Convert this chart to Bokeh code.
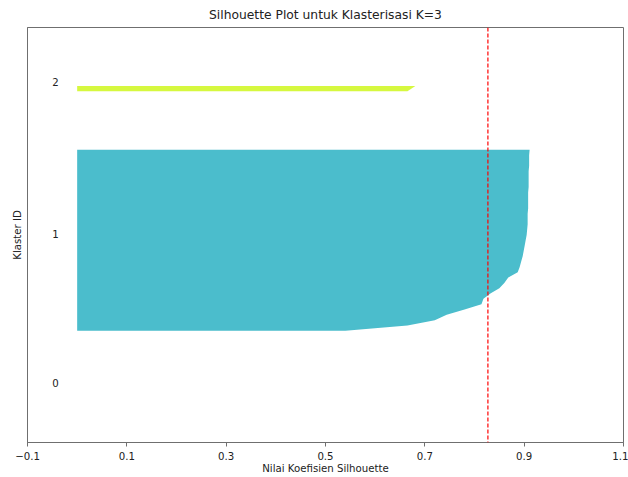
from bokeh.plotting import figure
from bokeh.models import FixedTicker, Span, Range1d, ColumnDataSource
from bokeh.core.properties import value
from bokeh.embed import file_html
from bokeh.resources import INLINE

# ---- data ----
cluster_ids = [0, 1, 2]
cluster0_values = [0.0]
cluster1_values = [0.540, 0.665, 0.720, 0.744, 0.780, 0.814, 0.818, 0.832, 0.850, 0.860,
                   0.868, 0.887, 0.891, 0.894, 0.897, 0.899, 0.901, 0.903, 0.905, 0.906,
                   0.907, 0.907, 0.907, 0.908, 0.908, 0.908, 0.908, 0.909, 0.909, 0.909,
                   0.909, 0.910, 0.910, 0.910, 0.911]
cluster2_values = [0.665, 0.681]
cluster_colors = ["#3a3a3a", "#4bbdcc", "#d6f83f"]
silhouette_avg = 0.827
x_ticks = [-0.1, 0.1, 0.3, 0.5, 0.7, 0.9, 1.1]
x_tick_labels = ["\u22120.1", "0.1", "0.3", "0.5", "0.7", "0.9", "1.1"]
gap = 10

cluster_values = [cluster0_values, cluster1_values, cluster2_values]
n_total = sum(len(v) for v in cluster_values)

FONT = "DejaVu Sans"
TXT = "#222222"
AX = "#6f6f6f"
SMALL = "10.2px"

p = figure(frame_width=596, frame_height=415, output_backend="svg", toolbar_location=None,
           x_range=Range1d(-0.1, 1.1), y_range=Range1d(0, n_total + (len(cluster_ids) + 1) * gap),
           min_border_left=27, min_border_right=5, min_border_top=27, min_border_bottom=35,
           title="Silhouette Plot untuk Klasterisasi K=3")
p.background_fill_color = "white"
p.border_fill_color = "white"
p.outline_line_color = AX
p.outline_line_width = 1
p.xgrid.visible = False
p.ygrid.visible = False

p.title.text_font = FONT
p.title.text_font_size = "12.3px"
p.title.text_font_style = "normal"
p.title.text_color = TXT
p.title.align = "center"
p.title.standoff = 11

label_y = []
y_lower = gap
for cid, vals, col in zip(cluster_ids, cluster_values, cluster_colors):
    n = len(vals)
    ys = list(range(y_lower, y_lower + n))
    src = ColumnDataSource(dict(y=ys, x1=[0] * n, x2=vals))
    p.harea(x1="x1", x2="x2", y="y", source=src, fill_color=col, fill_alpha=1.0)
    label_y.append(y_lower + 0.5 * n)
    y_lower += n + gap

p.text(x=[-0.05] * len(cluster_ids), y=label_y, text=[str(c) for c in cluster_ids],
       text_font=value(FONT), text_font_size=SMALL, text_color=TXT,
       text_baseline="alphabetic", text_align="left", y_offset=-4)

p.add_layout(Span(location=silhouette_avg, dimension="height", line_color="red",
                  line_dash="4 2", line_width=1.2))

xa = p.xaxis[0]
xa.ticker = FixedTicker(ticks=x_ticks)
xa.major_label_overrides = {t: l for t, l in zip(x_ticks, x_tick_labels)}
xa.minor_tick_line_color = None
xa.major_tick_in = 0
xa.major_tick_out = 4
xa.major_tick_line_color = AX
xa.axis_line_color = AX
xa.major_label_text_font = FONT
xa.major_label_text_font_size = SMALL
xa.major_label_text_color = TXT
xa.major_label_standoff = 5
xa.axis_label = "Nilai Koefisien Silhouette"
xa.axis_label_text_font = FONT
xa.axis_label_text_font_size = SMALL
xa.axis_label_text_font_style = "normal"
xa.axis_label_text_color = TXT
xa.axis_label_standoff = 0

ya = p.yaxis[0]
ya.ticker = FixedTicker(ticks=[])
ya.minor_tick_line_color = None
ya.major_tick_line_color = None
ya.major_tick_in = 0
ya.major_tick_out = 0
ya.major_label_text_font_size = "0px"
ya.major_label_standoff = 0
ya.axis_line_color = AX
ya.axis_label = "Klaster ID"
ya.axis_label_text_font = FONT
ya.axis_label_text_font_size = SMALL
ya.axis_label_text_font_style = "normal"
ya.axis_label_text_color = TXT
ya.axis_label_standoff = 5

open("out.html", "w").write(file_html(p, INLINE))
